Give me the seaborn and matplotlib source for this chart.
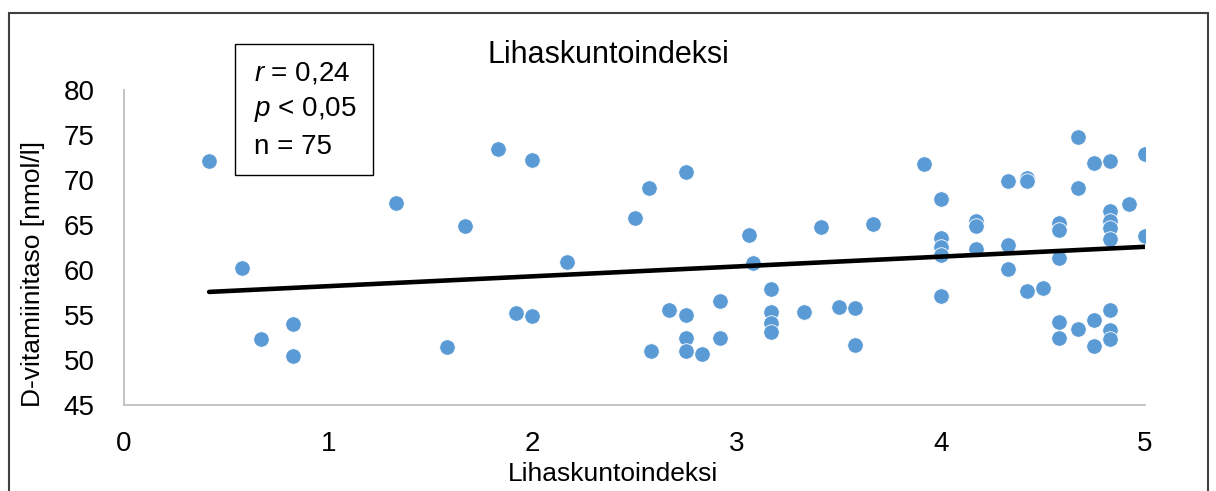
import matplotlib
matplotlib.use("Agg")
import matplotlib.pyplot as plt
from matplotlib.patches import Rectangle
import seaborn as sns
import pandas as pd

# ---- data ----
lihaskunto = [0.417, 0.580, 0.670, 0.830, 0.830, 1.333, 1.580, 1.670, 1.830, 1.920,
              2.000, 2.000, 2.170, 2.500, 2.570, 2.580, 2.670, 2.750, 2.750, 2.750,
              2.750, 2.830, 2.920, 2.920, 3.060, 3.080, 3.170, 3.170, 3.170, 3.170,
              3.330, 3.415, 3.500, 3.580, 3.580, 3.670, 3.920, 4.000, 4.000, 4.000,
              4.000, 4.000, 4.170, 4.170, 4.170, 4.330, 4.330, 4.330, 4.420, 4.420,
              4.420, 4.500, 4.580, 4.580, 4.580, 4.580, 4.580, 4.670, 4.670, 4.670,
              4.750, 4.750, 4.750, 4.830, 4.830, 4.830, 4.830, 4.830, 4.830, 4.830,
              4.830, 4.920, 5.000, 5.000]
d_vitamiini = [72.1, 60.2, 52.3, 54.0, 50.5, 67.5, 51.4, 64.9, 73.4, 55.2,
               72.2, 54.9, 60.9, 65.8, 69.1, 51.0, 55.6, 70.9, 55.0, 52.4,
               51.0, 50.7, 56.6, 52.4, 63.9, 60.8, 57.9, 55.3, 54.1, 53.1,
               55.3, 64.8, 55.9, 55.8, 51.7, 65.1, 71.8, 67.9, 63.6, 62.6,
               61.7, 57.1, 65.5, 64.9, 62.3, 69.9, 62.8, 60.1, 70.2, 69.9,
               57.7, 58.0, 65.2, 64.4, 61.3, 54.2, 52.4, 74.8, 69.1, 53.4,
               71.9, 54.5, 51.6, 72.1, 66.6, 65.4, 64.7, 63.5, 55.6, 53.3,
               52.3, 67.3, 72.9, 63.8]
x_ticks = [0, 1, 2, 3, 4, 5]
y_ticks = [45, 50, 55, 60, 65, 70, 75, 80]
stats_lines = [r"$\it{r}$ = 0,24", r"$\it{p}$ < 0,05", "n = 75"]
title_text = "Lihaskuntoindeksi"
xlabel_text = "Lihaskuntoindeksi"
ylabel_text = "D-vitamiinitaso [nmol/l]"

df = pd.DataFrame({"x": lihaskunto, "y": d_vitamiini})

sns.set_theme(style="white")
plt.rcParams["font.family"] = ["Liberation Sans", "DejaVu Sans"]
plt.rcParams["mathtext.fontset"] = "custom"
plt.rcParams["mathtext.rm"] = "Liberation Sans"
plt.rcParams["mathtext.it"] = "Liberation Sans:italic"

W, H = 1216, 491
fig = plt.figure(figsize=(W / 100, H / 100), dpi=100)
fig.patch.set_facecolor("white")
ax = fig.add_axes([124 / W, 1 - 405 / H, (1145 - 124) / W, (405 - 90) / H])

sns.scatterplot(data=df, x="x", y="y", ax=ax, color="#5B9BD5", s=125,
                edgecolor="white", linewidth=0.6, zorder=3)
sns.regplot(data=df, x="x", y="y", ax=ax, scatter=False, ci=None, truncate=True,
            line_kws={"color": "black", "lw": 3.3, "zorder": 4})

ax.set_xlim(0, 5)
ax.set_ylim(45, 80)
ax.set_xticks(x_ticks)
ax.set_yticks(y_ticks)
ax.tick_params(axis="both", length=0, labelsize=20, colors="black")
ax.tick_params(axis="x", pad=19)
ax.tick_params(axis="y", pad=21)
for side in ["top", "right"]:
    ax.spines[side].set_visible(False)
for side in ["left", "bottom"]:
    ax.spines[side].set_color("#bfbfbf")
    ax.spines[side].set_linewidth(1.3)
ax.grid(False)

ax.set_xlabel(xlabel_text, fontsize=19, color="black", va="center")
ax.xaxis.set_label_coords((613 - 124) / 1021, (405 - 474) / 315)
ax.set_ylabel(ylabel_text, fontsize=19, color="black", va="center")
ax.yaxis.set_label_coords((33 - 124) / 1021, (405 - 274) / 315)

fig.text(608 / W, 1 - 55 / H, title_text, fontsize=22, ha="center", va="center", color="black")

# statistics box
fig.patches.append(Rectangle((235 / W, 1 - 175 / H), (373 - 235) / W, (175 - 44) / H,
                             transform=fig.transFigure, fill=False, ec="black", lw=1.0))
for line, ypx in zip(stats_lines, [73, 110, 147]):
    fig.text(254 / W, 1 - ypx / H, line, fontsize=20, ha="left", va="center", color="black")

# chart border
fig.patches.append(Rectangle((9 / W, -0.05), (1208 - 9) / W, 1.05 - 13 / H,
                             transform=fig.transFigure, fill=False, ec="#404040", lw=1.5))

fig.savefig("out.png", dpi=100)
